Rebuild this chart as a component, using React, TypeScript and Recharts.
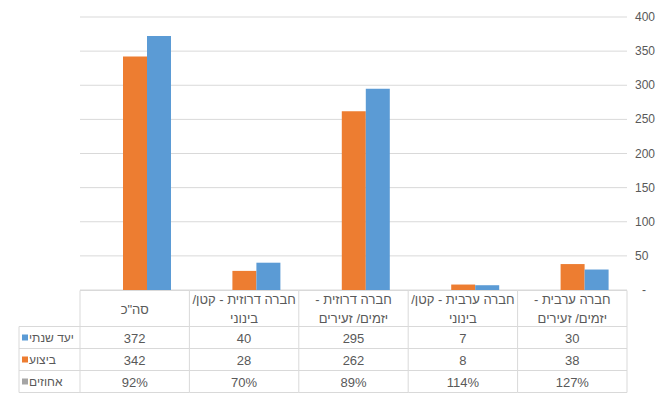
import { Bar, BarChart, CartesianGrid, Rectangle, XAxis, YAxis } from "recharts";

const categories = [
  'סה"כ',
  "חברה דרוזית - קטן/\nבינוני",
  "חברה דרוזית -\nיזמים/ זעירים",
  "חברה ערבית - קטן/\nבינוני",
  "חברה ערבית -\nיזמים/ זעירים",
];
const targetValues = [372, 40, 295, 7, 30];
const actualValues = [342, 28, 262, 8, 38];
const percentLabels = ["92%", "70%", "89%", "114%", "127%"];
const yTicks = [0, 50, 100, 150, 200, 250, 300, 350, 400];

const targetName = "יעד שנתי";
const actualName = "ביצוע";
const percentName = "אחוזים";

const BLUE = "#5B9BD5";
const ORANGE = "#ED7D31";
const GRAY = "#A5A5A5";
const TEXT = "#595959";
const LINE = "#D9D9D9";
const FONT = "'Liberation Sans', Arial, sans-serif";

const W = 664;
const H = 397;
const M = { top: 17, right: 0, left: 80, bottom: 5 };
const Y_W = 37;
const X_H = 102;
const COL_W = (W - M.left - M.right - Y_W) / categories.length;
const LEGEND_X = 19;
const HEADER_H = 36;
const ROW_H = 22;
const BAR_SHIFT = 12;

const data = categories.map((name, i) => ({
  name,
  actual: actualValues[i],
  target: targetValues[i],
}));

const rowSeries = [
  { name: targetName, color: BLUE, values: targetValues.map(String) },
  { name: actualName, color: ORANGE, values: actualValues.map(String) },
  { name: percentName, color: GRAY, values: percentLabels },
];

function TableTick(props: any) {
  const { x, y, payload, index } = props;
  const left = x - COL_W / 2;
  const right = x + COL_W / 2;
  const top = Math.round(y) + 0.5;
  const rowTops = rowSeries.map((_, r) => top + HEADER_H + r * ROW_H);
  const bottom = top + HEADER_H + rowSeries.length * ROW_H;
  const lines = String(payload.value).split("\n");
  const last = index === categories.length - 1;

  return (
    <g fontFamily={FONT} fontSize={13} fill={TEXT}>
      <line x1={left} x2={right} y1={top} y2={top} stroke={LINE} />
      <line x1={left} x2={left} y1={top} y2={bottom} stroke={LINE} />
      {last && <line x1={right} x2={right} y1={top} y2={bottom} stroke={LINE} />}
      {[...rowTops, bottom].map((ry, k) => (
        <line key={k} x1={index === 0 ? LEGEND_X : left} x2={right} y1={ry} y2={ry} stroke={LINE} />
      ))}
      {index === 0 && (
        <line x1={LEGEND_X} x2={LEGEND_X} y1={rowTops[0]} y2={bottom} stroke={LINE} />
      )}
      {lines.map((t, k) => (
        <text
          key={k}
          x={x}
          y={top + HEADER_H / 2 + (k - (lines.length - 1) / 2) * 19}
          dy={5}
          textAnchor="middle"
          direction="rtl"
          style={{ direction: "rtl", unicodeBidi: "embed" }}
        >
          {t}
        </text>
      ))}
      {rowSeries.map((s, r) => (
        <text key={r} x={x} y={rowTops[r] + ROW_H / 2} dy={5} textAnchor="middle">
          {s.values[index]}
        </text>
      ))}
      {index === 0 &&
        rowSeries.map((s, r) => (
          <g key={"lg" + r}>
            <rect x={LEGEND_X + 3} y={rowTops[r] + ROW_H / 2 - 3} width={6} height={6} fill={s.color} />
            <text x={LEGEND_X + 10} y={rowTops[r] + ROW_H / 2} dy={4} textAnchor="start" fontSize={12}>
              {s.name}
            </text>
          </g>
        ))}
    </g>
  );
}

function YTick(props: any) {
  const { x, y, payload } = props;
  const zero = payload.value === 0;
  return (
    <text x={x + (zero ? 7 : 0)} y={y} dy={4} fontFamily={FONT} fontSize={12} fill={TEXT}>
      {zero ? "-" : payload.value}
    </text>
  );
}

function ShiftedBar(props: any) {
  return <Rectangle {...props} x={props.x + BAR_SHIFT} />;
}

export default function App() {
  return (
    <div style={{ position: "absolute", left: 0, top: 0, width: W, height: H, background: "#fff" }}>
      <BarChart width={W} height={H} data={data} margin={M} barGap={0} barSize={24}>
        <CartesianGrid stroke={LINE} vertical={false} />
        <XAxis
          dataKey="name"
          height={X_H}
          interval={0}
          axisLine={false}
          tickLine={false}
          tickSize={0}
          tickMargin={0}
          tick={<TableTick />}
        />
        <YAxis
          orientation="right"
          width={Y_W}
          domain={[0, 400]}
          ticks={yTicks}
          axisLine={false}
          tickLine={false}
          tick={<YTick />}
        />
        <Bar dataKey="actual" name={actualName} fill={ORANGE} isAnimationActive={false} shape={<ShiftedBar />} />
        <Bar dataKey="target" name={targetName} fill={BLUE} isAnimationActive={false} shape={<ShiftedBar />} />
      </BarChart>
    </div>
  );
}
